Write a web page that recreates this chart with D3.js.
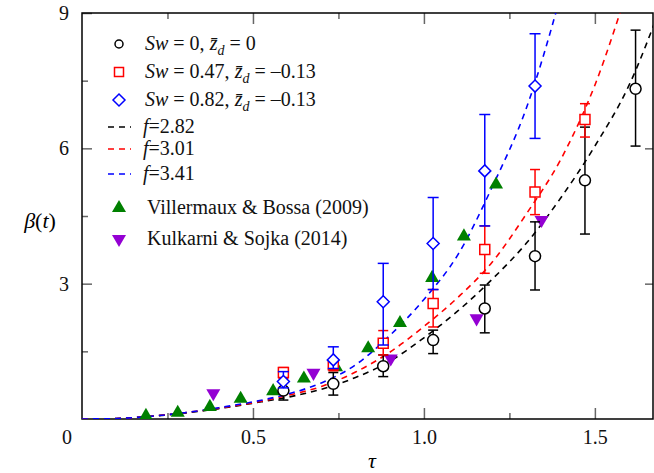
<!DOCTYPE html>
<html>
<head>
<meta charset="utf-8">
<script src="https://cdn.jsdelivr.net/npm/d3@7"></script>
<style>
  body { margin: 0; background: #fff; }
  svg { display: block; }
  .tick line { stroke: #666; stroke-width: 1.5; }
  .tick text { font-size: 20px; fill: #111; }
  .domain { display: none; }
</style>
</head>
<body>
<div id="chart"></div>
<script>
// tau positions of the measured points
var tauMeas = [0.589, 0.735, 0.881, 1.027, 1.178, 1.325, 1.471, 1.619];

// Sw = 0 (black circles)
var blackVal = [0.63, 0.78, 1.17, 1.75, 2.45, 3.61, 5.29, 7.32];
var blackLo  = [0.42, 0.53, 0.94, 1.45, 1.91, 2.86, 4.10, 6.05];
var blackHi  = [0.84, 1.03, 1.42, 1.97, 2.97, 4.37, 6.47, 8.62];

// Sw = 0.47 (red squares)
var redVal = [1.03, 1.20, 1.68, 2.56, 3.76, 5.03, 6.64];
var redLo  = [0.90, 1.07, 1.42, 2.04, 3.23, 4.53, 6.25];
var redHi  = [1.14, 1.33, 1.96, 2.87, 4.28, 5.53, 6.99];

// Sw = 0.82 (blue diamonds)
var blueVal = [0.83, 1.31, 2.60, 3.89, 5.50, 7.38];
var blueLo  = [0.69, 1.12, 1.64, 2.87, 4.28, 6.22];
var blueHi  = [1.05, 1.60, 3.45, 4.91, 6.75, 8.54];

// Villermaux & Bossa (2009)
var villTau = [0.187, 0.280, 0.374, 0.464, 0.559, 0.649, 0.743, 0.837, 0.930, 1.024, 1.117, 1.211];
var villVal = [0.09, 0.16, 0.29, 0.47, 0.64, 0.92, 1.17, 1.59, 2.15, 3.15, 4.07, 5.22];

// Kulkarni & Sojka (2014)
var kulTau = [0.384, 0.677, 0.903, 1.154, 1.344];
var kulVal = [0.55, 1.00, 1.32, 2.21, 4.39];

// dashed model curves
var tauCurve = [0, 0.1, 0.2, 0.3, 0.4, 0.5, 0.6, 0.7, 0.8, 0.9, 1.0, 1.1, 1.2, 1.3, 1.4, 1.5, 1.6, 1.7];
var curve282 = [0, 0.01, 0.06, 0.13, 0.23, 0.35, 0.48, 0.66, 0.92, 1.28, 1.80, 2.40, 3.10, 3.90, 4.90, 6.05, 7.40, 9.30];
var curve301 = [0, 0.01, 0.06, 0.14, 0.24, 0.36, 0.52, 0.72, 1.04, 1.48, 2.05, 2.70, 3.48, 4.55, 5.75, 7.40, 9.60, 11.8];
var curve341 = [0, 0.01, 0.06, 0.14, 0.25, 0.38, 0.55, 0.80, 1.20, 1.85, 2.65, 3.65, 5.15, 6.90, 9.40, 12.5, 16.0, 20.0];

var xMajor = [0.5, 1.0, 1.5];
var xMinor = [0.25, 0.75, 1.25];
var yMajor = [3, 6, 9];
var yMinor = [1.5, 4.5, 7.5];

var serif = "Liberation Serif, Times New Roman, Times, Nimbus Roman, Noto Serif, FreeSerif, DejaVu Serif, serif";
var w = 654, h = 473;
var mLeft = 82, mRight = 653, mTop = 13, mBottom = 419;

var svg = d3.select("#chart").append("svg")
  .attr("width", w)
  .attr("height", h)
  .style("font-family", serif);

svg.append("rect").attr("width", w).attr("height", h).attr("fill", "#fff");

var x = d3.scaleLinear().domain([0, 1.67]).range([mLeft, mRight]);
var y = d3.scaleLinear().domain([0, 9]).range([mBottom, mTop]);

svg.append("defs").append("clipPath").attr("id", "clip")
  .append("rect")
  .attr("x", mLeft).attr("y", mTop)
  .attr("width", mRight - mLeft).attr("height", mBottom - mTop);

// axes (ticks point inward)
function axisG(tr, ax) {
  var g = svg.append("g").attr("transform", tr).call(ax);
  g.attr("font-family", null).attr("font-size", 20);
  g.selectAll("text").style("font-family", serif);
  return g;
}
axisG("translate(0," + mBottom + ")",
  d3.axisBottom(x).tickValues(xMajor).tickSize(-11).tickPadding(11).tickFormat(d3.format(".1f")));
axisG("translate(0," + mBottom + ")", d3.axisBottom(x).tickValues(xMinor).tickSize(-6).tickFormat(""));
axisG("translate(0," + mTop + ")", d3.axisTop(x).tickValues(xMajor).tickSize(-11).tickFormat(""));
axisG("translate(0," + mTop + ")", d3.axisTop(x).tickValues(xMinor).tickSize(-6).tickFormat(""));
axisG("translate(" + mLeft + ",0)",
  d3.axisLeft(y).tickValues(yMajor).tickSize(-10).tickPadding(13).tickFormat(d3.format("d")));
axisG("translate(" + mLeft + ",0)", d3.axisLeft(y).tickValues(yMinor).tickSize(-6).tickFormat(""));
axisG("translate(" + mRight + ",0)", d3.axisRight(y).tickValues([3, 6]).tickSize(-8).tickFormat(""));

// origin label
svg.append("text").attr("x", 67).attr("y", 444)
  .attr("text-anchor", "middle").attr("font-size", 20).attr("fill", "#111").text("0");

// frame
svg.append("rect")
  .attr("x", mLeft).attr("y", mTop)
  .attr("width", mRight - mLeft).attr("height", mBottom - mTop)
  .attr("fill", "none").attr("stroke", "#000").attr("stroke-width", 1.5);

// axis titles
var yt = svg.append("text").attr("x", 40).attr("y", 228)
  .attr("text-anchor", "middle").attr("font-size", 22).attr("font-style", "italic");
yt.append("tspan").text("β");
yt.append("tspan").attr("font-style", "normal").text("(");
yt.append("tspan").text("t");
yt.append("tspan").attr("font-style", "normal").text(")");

svg.append("text").attr("x", 372).attr("y", 468)
  .attr("text-anchor", "middle").attr("font-size", 22).attr("font-style", "italic").text("τ");

var plot = svg.append("g").attr("clip-path", "url(#clip)");

// dashed curves
var line = d3.line()
  .x(function(d) { return x(d[0]); })
  .y(function(d) { return y(d[1]); })
  .curve(d3.curveMonotoneX);

[[curve282, "#000"], [curve301, "#f00"], [curve341, "#00f"]].forEach(function(c) {
  plot.append("path")
    .datum(tauCurve.map(function(t, i) { return [t, c[0][i]]; }))
    .attr("d", line)
    .attr("fill", "none")
    .attr("stroke", c[1])
    .attr("stroke-width", 1.6)
    .attr("stroke-dasharray", "6,5");
});

// literature data
var triUp = d3.symbol().type(d3.symbolTriangle).size(85);
plot.append("g").selectAll("path")
  .data(villTau.map(function(t, i) { return [t, villVal[i]]; }))
  .enter().append("path")
  .attr("d", triUp)
  .attr("transform", function(d) { return "translate(" + x(d[0]) + "," + (y(d[1]) + 1) + ")"; })
  .attr("fill", "#008000");

plot.append("g").selectAll("path")
  .data(kulTau.map(function(t, i) { return [t, kulVal[i]]; }))
  .enter().append("path")
  .attr("d", triUp)
  .attr("transform", function(d) { return "translate(" + x(d[0]) + "," + (y(d[1]) - 1) + ") rotate(180)"; })
  .attr("fill", "#9400d3");

// measured series with error bars
function series(vals, lo, hi, color, cap, marker) {
  var data = vals.map(function(v, i) { return { t: tauMeas[i], v: v, lo: lo[i], hi: hi[i] }; });
  var g = plot.append("g").attr("stroke", color).attr("stroke-width", 1.5).attr("fill", "none");
  var eb = g.selectAll(".eb").data(data).enter().append("g");
  eb.append("line")
    .attr("x1", function(d) { return x(d.t); }).attr("x2", function(d) { return x(d.t); })
    .attr("y1", function(d) { return y(d.lo); }).attr("y2", function(d) { return y(d.hi); });
  eb.append("line")
    .attr("x1", function(d) { return x(d.t) - cap; }).attr("x2", function(d) { return x(d.t) + cap; })
    .attr("y1", function(d) { return y(d.lo); }).attr("y2", function(d) { return y(d.lo); });
  eb.append("line")
    .attr("x1", function(d) { return x(d.t) - cap; }).attr("x2", function(d) { return x(d.t) + cap; })
    .attr("y1", function(d) { return y(d.hi); }).attr("y2", function(d) { return y(d.hi); });
  g.selectAll(".mk").data(data).enter().append("path")
    .attr("d", marker)
    .attr("fill", "#fff")
    .attr("transform", function(d) { return "translate(" + x(d.t) + "," + y(d.v) + ")"; });
}

var circleMk = "M5.5,0A5.5,5.5 0 1,1 -5.5,0A5.5,5.5 0 1,1 5.5,0Z";
var squareMk = "M-5,-5H5V5H-5Z";
var diamondMk = "M0,-6L6,0L0,6L-6,0Z";

series(blackVal, blackLo, blackHi, "#000", 5, circleMk);
series(redVal, redLo, redHi, "#f00", 5, squareMk);
series(blueVal, blueLo, blueHi, "#00f", 5.5, diamondMk);

// legend
var lg = svg.append("g").attr("font-size", 20).attr("fill", "#111");
var lx = 119, tx = 145;

function swRow(yy, sw, zd) {
  var t = lg.append("text").attr("x", tx).attr("y", yy + 6);
  t.append("tspan").attr("font-style", "italic").text("Sw");
  t.append("tspan").text(" = " + sw + ", ");
  t.append("tspan").attr("font-style", "italic").text("z\u0304");
  t.append("tspan").attr("font-style", "italic").attr("font-size", 14).attr("dy", 5).text("d");
  t.append("tspan").attr("dy", -5).text(" = " + zd);
}
function fRow(yy, f, color) {
  lg.append("line").attr("x1", lx - 11).attr("x2", lx + 12).attr("y1", yy).attr("y2", yy)
    .attr("stroke", color).attr("stroke-width", 1.6).attr("stroke-dasharray", "6,5");
  var t = lg.append("text").attr("x", tx - 2).attr("y", yy + 6);
  t.append("tspan").attr("font-style", "italic").text("f");
  t.append("tspan").text("=" + f);
}

lg.append("circle").attr("cx", lx).attr("cy", 44).attr("r", 4)
  .attr("fill", "none").attr("stroke", "#000").attr("stroke-width", 1.5);
swRow(44, "0", "0");
lg.append("rect").attr("x", lx - 4.5).attr("y", 72 - 4.5).attr("width", 9).attr("height", 9)
  .attr("fill", "none").attr("stroke", "#f00").attr("stroke-width", 1.5);
swRow(72, "0.47", "–0.13");
lg.append("path").attr("d", diamondMk).attr("transform", "translate(" + lx + ",100)")
  .attr("fill", "none").attr("stroke", "#00f").attr("stroke-width", 1.5);
swRow(100, "0.82", "–0.13");
fRow(127, "2.82", "#000");
fRow(149, "3.01", "#f00");
fRow(174, "3.41", "#00f");
lg.append("path").attr("d", triUp).attr("transform", "translate(" + lx + ",208)").attr("fill", "#008000");
lg.append("text").attr("x", tx + 2).attr("y", 208 + 6).text("Villermaux & Bossa (2009)");
lg.append("path").attr("d", triUp).attr("transform", "translate(" + lx + ",239) rotate(180)").attr("fill", "#9400d3");
lg.append("text").attr("x", tx + 2).attr("y", 239 + 6).text("Kulkarni & Sojka (2014)");
</script>
</body>
</html>
